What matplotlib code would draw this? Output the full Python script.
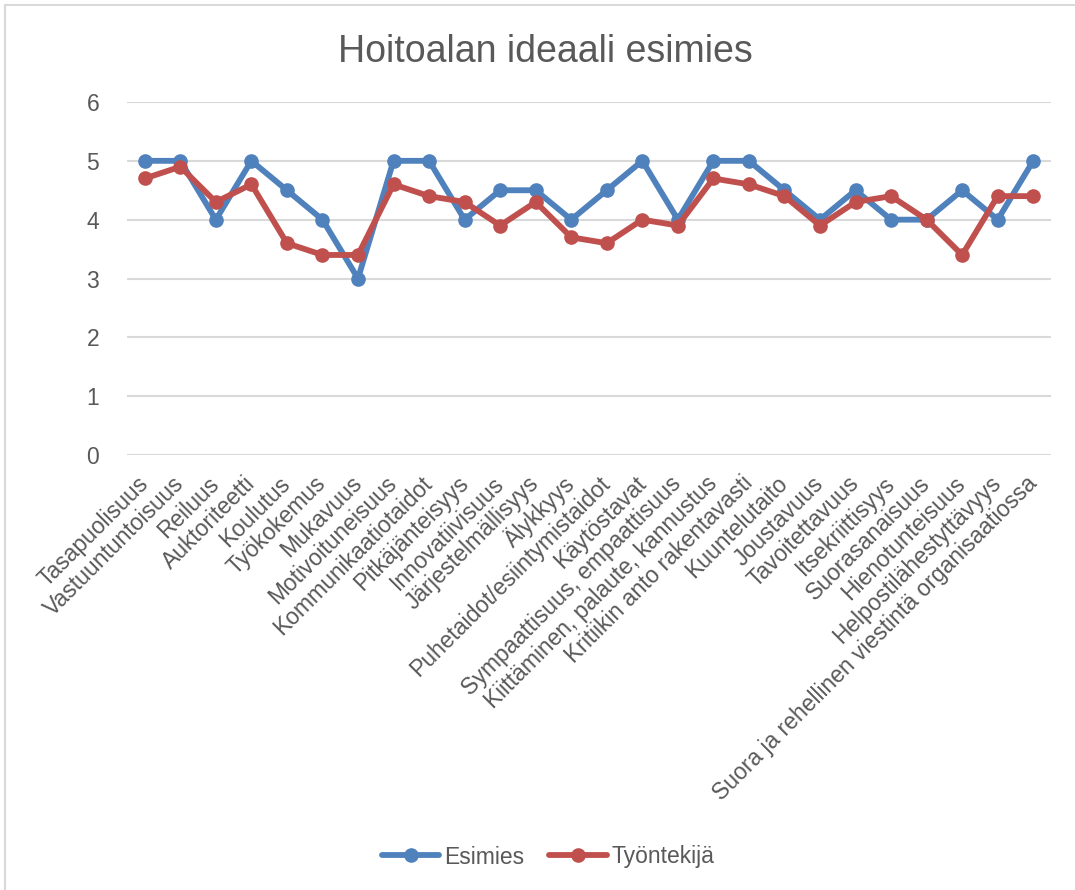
import matplotlib
matplotlib.use("Agg")
import matplotlib.pyplot as plt
from matplotlib.patches import Rectangle
from matplotlib.lines import Line2D

plt.rcParams['font.family'] = ['Liberation Sans', 'DejaVu Sans']

categories = [
    "Tasapuolisuus", "Vastuuntuntoisuus", "Reiluus", "Auktoriteetti",
    "Koulutus", "Työkokemus", "Mukavuus", "Motivoituneisuus",
    "Kommunikaatiotaidot", "Pitkäjänteisyys", "Innovatiivisuus",
    "Järjestelmällisyys", "Älykkyys", "Puhetaidot/esiintymistaidot",
    "Käytöstavat", "Sympaattisuus, empaattisuus",
    "Kiittäminen, palaute, kannustus", "Kritiikin anto rakentavasti",
    "Kuuntelutaito", "Joustavuus", "Tavoitettavuus", "Itsekriittisyys",
    "Suorasanaisuus", "Hienotunteisuus", "Helpostilähestyttävyys",
    "Suora ja rehellinen viestintä organisaatiossa",
]
esimies = [5, 5, 4, 5, 4.5, 4, 3, 5, 5, 4, 4.5, 4.5, 4, 4.5, 5, 4,
           5, 5, 4.5, 4, 4.5, 4, 4, 4.5, 4, 5]
tyontekija = [4.7, 4.9, 4.3, 4.6, 3.6, 3.4, 3.4, 4.6, 4.4, 4.3, 3.9, 4.3,
              3.7, 3.6, 4.0, 3.9, 4.7, 4.6, 4.4, 3.9, 4.3, 4.4, 4.0, 3.4,
              4.4, 4.4]
series_names = ["Esimies", "Työntekijä"]
yticks = [0, 1, 2, 3, 4, 5, 6]

BLUE = "#4F81BD"
RED = "#C0504D"
TEXT = "#595959"
GRID = "#D9D9D9"

W, H = 1075, 890
fig = plt.figure(figsize=(W / 100, H / 100), dpi=100)

# outer chart frame (left and top edges visible)
fig.patches.append(Rectangle((5 / W, -0.1), 1.2, 1 - 5 / H + 0.1,
                             transform=fig.transFigure, fill=False,
                             edgecolor=GRID, linewidth=1.5))

left, right, top, bottom = 127, 1051, 102, 455
ax = fig.add_axes([left / W, 1 - bottom / H, (right - left) / W, (bottom - top) / H])

x = list(range(len(categories)))
line_kw = dict(linewidth=4.2, marker="o", markersize=9.5, solid_joinstyle="round",
               solid_capstyle="round")
ax.plot(x, esimies, color=BLUE, label=series_names[0], zorder=3, **line_kw)
ax.plot(x, tyontekija, color=RED, label=series_names[1], zorder=4, **line_kw)

ax.set_xlim(-0.5, len(categories) - 0.5)
ax.set_ylim(0, 6)
ax.set_yticks(yticks)
ax.yaxis.grid(True, color=GRID, linewidth=1.5)
ax.set_axisbelow(True)
for s in ax.spines.values():
    s.set_visible(False)
ax.tick_params(axis="both", length=0, labelsize=16.5, labelcolor=TEXT)
ax.tick_params(axis="y", pad=20)
ax.tick_params(axis="x", pad=18)
ax.set_xticks(x)
ax.set_xticklabels(categories, rotation=45, ha="right", va="center",
                   rotation_mode="anchor")

fig.text(545 / W, 1 - 62 / H, "Hoitoalan ideaali esimies", ha="center",
         va="baseline", fontsize=27, color=TEXT)

handles = [Line2D([], [], color=BLUE, **line_kw),
           Line2D([], [], color=RED, **line_kw)]
fig.legend(handles, series_names, loc="center", bbox_to_anchor=(548 / W, 1 - 857 / H),
           ncol=2, frameon=False, fontsize=16.5, labelcolor=TEXT,
           handlelength=2.5, handletextpad=0.2, columnspacing=1.1)

fig.savefig("out.png", dpi=100)
